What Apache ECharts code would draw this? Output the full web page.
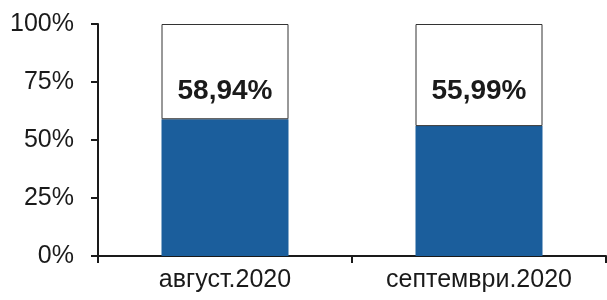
<!DOCTYPE html>
<html lang="mk">
<head>
    <meta charset="utf-8" />
    <title>ECharts</title>
    <script src="https://cdn.jsdelivr.net/npm/echarts@6/dist/echarts.min.js"></script>
</head>
<body style="margin:0">
<div id="main" style="width: 607px;height:300px;"></div>
<script type="text/javascript">
    // categories and values
    var months = ['август.2020', 'септември.2020'];
    var share = [58.94, 55.99];
    var yTicks = [0, 25, 50, 75, 100];

    var rest = share.map(function (v) { return +(100 - v).toFixed(2); });

    var myChart = echarts.init(document.getElementById('main'), null, {renderer: 'canvas'});
    var fontFam = '"Liberation Sans", Arial, sans-serif';

    var option = {
      animation: false,
      grid: { left: 98, right: 1, top: 24, bottom: 44 },
      xAxis: {
        type: 'category',
        data: months,
        axisLine: { lineStyle: { color: '#1a1a1a', width: 2 } },
        axisTick: { show: true, length: 7, lineStyle: { color: '#1a1a1a', width: 2 } },
        axisLabel: { color: '#1a1a1a', fontSize: 25, fontFamily: fontFam, margin: 12 }
      },
      yAxis: {
        type: 'value',
        min: 0,
        max: 100,
        interval: 25,
        axisLine: { show: true, lineStyle: { color: '#1a1a1a', width: 2 } },
        axisTick: { show: true, length: 7, lineStyle: { color: '#1a1a1a', width: 2 } },
        splitLine: { show: false },
        axisLabel: {
          color: '#1a1a1a', fontSize: 25, fontFamily: fontFam, margin: 24,
          formatter: function (v) { return yTicks.indexOf(v) >= 0 ? v + '%' : ''; }
        }
      },
      series: [
        {
          type: 'bar',
          stack: 'total',
          barWidth: '50%',
          data: share,
          itemStyle: { color: '#1b5e9c' }
        },
        {
          type: 'bar',
          stack: 'total',
          barWidth: '50%',
          data: rest,
          itemStyle: { color: '#ffffff', borderColor: '#333', borderWidth: 1 },
          label: {
            show: true,
            position: 'insideTop',
            distance: 53,
            color: '#1a1a1a',
            fontSize: 28,
            fontWeight: 'bold',
            fontFamily: fontFam,
            formatter: function (p) {
              return share[p.dataIndex].toFixed(2).replace('.', ',') + '%';
            }
          }
        }
      ]
    };
    myChart.setOption(option);
</script>
</body>
</html>
